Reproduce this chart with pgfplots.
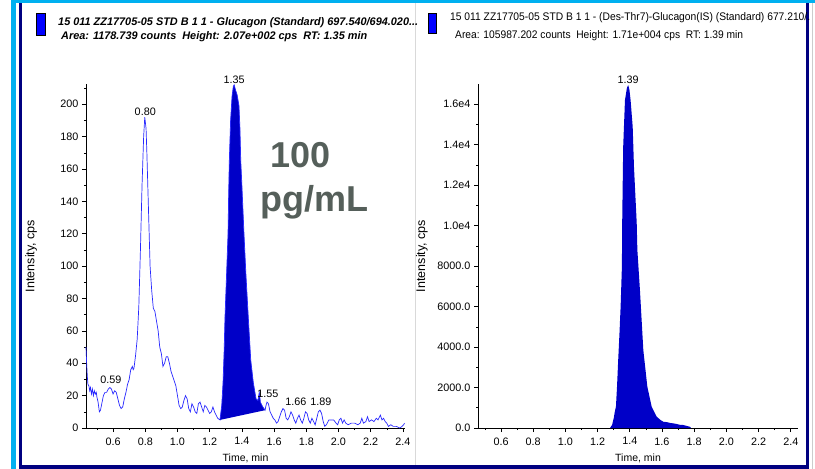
\documentclass[border=0pt]{standalone}
\usepackage{pgfplots}
\pgfplotsset{compat=1.18}
\usepackage{fontspec}
\setmainfont{Liberation Sans}
\usepackage{graphicx}
\definecolor{framecyan}{RGB}{0,176,240}
\definecolor{framenavy}{RGB}{0,0,128}
\definecolor{peakfill}{RGB}{0,0,200}
\definecolor{traceblue}{RGB}{40,40,255}
\definecolor{bigtext}{RGB}{85,95,90}
\newcommand{\fitw}[2]{\resizebox{#1}{\height}{#2}}
\pgfplotsset{
  chrom/.style={
    scale only axis,
    axis lines=left,
    axis line style={-, line width=0.8bp, black},
    tick align=outside,
    major tick length=4bp, minor tick length=2bp,
    every tick/.style={black, line width=0.6bp},
    tick label style={font=\fontsize{10.8bp}{12bp}\selectfont},
    /pgf/number format/assume math mode=true,
    xtick={0.6,0.8,1.0,1.2,1.4,1.6,1.8,2.0,2.2,2.4},
    minor xtick={0.5,0.7,0.9,1.1,1.3,1.5,1.7,1.9,2.1,2.3},
    xticklabel style={yshift=-2bp, /pgf/number format/.cd, fixed, fixed zerofill, precision=1},
    xlabel={Time, min},
    ylabel={Intensity, cps},
    scaled y ticks=false,
    clip=false,
  }
}
\begin{document}
\begin{tikzpicture}
\useasboundingbox (0,0) rectangle (815bp,-469bp);
\fill[white] (0,0) rectangle (815bp,-469bp);
% frame
\fill[framecyan] (11bp,0) rectangle (815bp,-3bp);
\fill[framecyan] (11bp,0) rectangle (16bp,-469bp);
\fill[framenavy] (18.5bp,-3bp) rectangle (22bp,-469bp);
\fill[framenavy] (18.5bp,-465bp) rectangle (809bp,-469bp);
\fill[framenavy] (805.5bp,-3bp) rectangle (809bp,-469bp);
\draw[gray!40, line width=0.8bp] (812.5bp,-3bp) -- (812.5bp,-469bp);
\draw[gray!30, line width=0.8bp] (415bp,-3bp) -- (415bp,-465bp);
% titles
\filldraw[fill=blue, draw=black, line width=0.8bp] (36bp,-13bp) rectangle (45bp,-35bp);
\filldraw[fill=blue, draw=black, line width=0.8bp] (428bp,-13bp) rectangle (436bp,-33bp);
\node[anchor=base west, inner sep=0] at (58bp,-25.5bp) {\fontsize{11bp}{13bp}\selectfont\bfseries\itshape\fitw{360bp}{15 011 ZZ17705-05 STD B 1 1 - Glucagon (Standard) 697.540/694.020...}};
\node[anchor=base west, inner sep=0] at (61bp,-39.5bp) {\fontsize{11bp}{13bp}\selectfont\bfseries\itshape\fitw{306bp}{Area: 1178.739 counts\ \ Height: 2.07e+002 cps\ \ RT: 1.35 min}};
\node[anchor=base west, inner sep=0] at (450bp,-21bp) {\fontsize{11bp}{13bp}\selectfont\fitw{360bp}{15 011 ZZ17705-05 STD B 1 1 - (Des-Thr7)-Glucagon(IS) (Standard) 677.210/.}};
\node[anchor=base west, inner sep=0] at (455bp,-39bp) {\fontsize{11bp}{13bp}\selectfont\fitw{288bp}{Area: 105987.202 counts\ \ Height: 1.71e+004 cps\ \ RT: 1.39 min}};
% left axis
\begin{axis}[chrom,
  at={(86bp,-428bp)}, anchor=south west, width=319bp, height=344bp,
  xmin=0.432, xmax=2.413, ymin=0, ymax=212.5,
  ytick={0,20,40,60,80,100,120,140,160,180,200},
  minor ytick={10,30,50,70,90,110,130,150,170,190,210},
  yticklabel style={/pgf/number format/.cd, fixed, precision=0},
  every axis y label/.style={at={(axis description cs:-0.172,0.5)}, rotate=90, anchor=center, font=\fontsize{12.5bp}{14bp}\selectfont},
  every axis x label/.style={at={(axis description cs:0.5,-0.087)}, anchor=center, font=\fontsize{10.5bp}{12bp}\selectfont},
]
\addplot[fill=peakfill, draw=none] coordinates {
(1.264,5) (1.275,14) (1.283,28) (1.29,48) (1.295,68) (1.305,95) (1.314,120) (1.318,145)
(1.322,165) (1.33,190) (1.339,205) (1.347,211) (1.352,212) (1.36,209) (1.37,206) (1.382,199)
(1.388,185) (1.393,165) (1.40,150) (1.413,120) (1.425,95) (1.44,68) (1.455,42) (1.471,28)
(1.488,18) (1.50,17) (1.508,22) (1.515,16) (1.53,13) (1.544,11)
} -- cycle;
\addplot[traceblue, line width=0.7bp] coordinates {
(0.432,50) (0.436,40) (0.44,32) (0.444,27) (0.45,26) (0.455,23) (0.46,25) (0.466,21)
(0.472,24) (0.478,20) (0.484,23) (0.49,21) (0.496,22) (0.50,19) (0.507,16) (0.515,10)
(0.522,11) (0.53,15) (0.54,20) (0.55,22) (0.56,22) (0.57,24) (0.58,25) (0.59,24)
(0.60,21) (0.61,23) (0.62,22) (0.63,18) (0.64,14) (0.65,12) (0.66,13) (0.67,18)
(0.68,22) (0.69,27) (0.70,30) (0.71,36) (0.72,38) (0.725,36) (0.73,37) (0.74,45)
(0.75,55) (0.76,75) (0.77,110) (0.78,150) (0.79,180) (0.797,192) (0.805,185) (0.81,170)
(0.82,135) (0.83,100) (0.84,85) (0.85,74) (0.86,72) (0.87,66) (0.875,63) (0.88,60)
(0.89,50) (0.90,46) (0.91,38) (0.92,40) (0.93,44) (0.94,44) (0.95,40) (0.96,35)
(0.97,32) (0.98,29) (0.99,26) (1.00,20) (1.01,14) (1.02,12) (1.03,13) (1.04,17)
(1.05,20) (1.06,18) (1.07,12) (1.08,10) (1.09,15) (1.10,13) (1.11,10) (1.12,9)
(1.13,15) (1.14,16) (1.15,13) (1.16,10) (1.17,14) (1.18,13) (1.19,11) (1.20,9)
(1.21,10) (1.22,13) (1.23,10) (1.24,8) (1.25,6) (1.264,5)
(1.275,14) (1.283,28) (1.29,48) (1.295,68) (1.305,95) (1.314,120) (1.318,145)
(1.322,165) (1.33,190) (1.339,205) (1.347,211) (1.352,212) (1.36,209) (1.37,206) (1.382,199)
(1.388,185) (1.393,165) (1.40,150) (1.413,120) (1.425,95) (1.44,68) (1.455,42) (1.471,28)
(1.488,18) (1.50,17) (1.508,22) (1.515,16) (1.53,13) (1.544,11)
(1.55,14) (1.556,16) (1.565,15) (1.575,10) (1.585,8) (1.595,6) (1.605,5) (1.615,3)
(1.625,4) (1.635,7) (1.645,10) (1.655,12) (1.665,11) (1.675,6) (1.685,5) (1.695,7)
(1.705,10) (1.715,8) (1.725,5) (1.735,3) (1.745,6) (1.755,8) (1.765,5) (1.775,3)
(1.785,6) (1.795,10) (1.805,9) (1.815,5) (1.825,3) (1.835,6) (1.845,4) (1.855,2)
(1.865,6) (1.875,10) (1.885,11) (1.895,9) (1.905,4) (1.915,1) (1.925,2) (1.94,5)
(1.955,5) (1.97,5) (1.985,3) (1.995,2) (2.005,5) (2.015,6) (2.025,3) (2.035,5)
(2.045,3) (2.06,2) (2.08,3) (2.10,3) (2.12,2) (2.135,3) (2.145,6) (2.155,3)
(2.17,4) (2.18,7) (2.19,4) (2.205,5) (2.22,4) (2.235,6) (2.245,5) (2.26,8)
(2.27,5) (2.28,6) (2.29,4) (2.30,3) (2.31,1) (2.325,2) (2.34,1) (2.36,1)
(2.38,0) (2.395,1) (2.405,2) (2.41,3)
};
\node[font=\fontsize{10.8bp}{12bp}\selectfont, anchor=south, inner sep=1.5bp] at (axis cs:0.80,192) {0.80};
\node[font=\fontsize{10.8bp}{12bp}\selectfont, anchor=south, inner sep=1.5bp] at (axis cs:1.352,212) {1.35};
\node[font=\fontsize{10.8bp}{12bp}\selectfont, anchor=center, inner sep=0] at (axis cs:0.587,30) {0.59};
\node[font=\fontsize{10.8bp}{12bp}\selectfont, anchor=center, inner sep=0] at (axis cs:1.562,21) {1.55};
\node[font=\fontsize{10.8bp}{12bp}\selectfont, anchor=center, inner sep=0] at (axis cs:1.735,16) {1.66};
\node[font=\fontsize{10.8bp}{12bp}\selectfont, anchor=center, inner sep=0] at (axis cs:1.89,16) {1.89};
\end{axis}
% big annotation
\node[anchor=base west, inner sep=0, text=bigtext, font=\fontsize{36bp}{40bp}\selectfont\bfseries] at (270bp,-167bp) {100};
\node[anchor=base west, inner sep=0, text=bigtext, font=\fontsize{36bp}{40bp}\selectfont\bfseries] at (260bp,-211bp) {pg/mL};
% right axis
\begin{axis}[chrom,
  at={(478bp,-428bp)}, anchor=south west, width=320bp, height=344bp,
  xmin=0.457, xmax=2.445, ymin=0, ymax=17000,
  ytick={0,2000,4000,6000,8000,10000,12000,14000,16000},
  yticklabels={0.0,2000.0,4000.0,6000.0,8000.0,1.0e4,1.2e4,1.4e4,1.6e4},
  minor ytick={1000,3000,5000,7000,9000,11000,13000,15000},
  every axis y label/.style={at={(axis description cs:-0.175,0.5)}, rotate=90, anchor=center, font=\fontsize{12.5bp}{14bp}\selectfont},
  every axis x label/.style={at={(axis description cs:0.5,-0.087)}, anchor=center, font=\fontsize{10.5bp}{12bp}\selectfont},
]
\addplot[fill=peakfill, draw=none] coordinates {
(1.277,0) (1.29,150) (1.30,480) (1.308,850) (1.314,1050) (1.321,2100) (1.328,3360)
(1.336,4700) (1.343,5990) (1.351,7970) (1.353,10270) (1.359,13900) (1.370,16200)
(1.382,16800) (1.390,16950) (1.398,16700) (1.405,16200) (1.418,14880) (1.426,12900)
(1.443,10130) (1.447,8800) (1.463,6820) (1.484,3850) (1.509,2040) (1.536,1050)
(1.567,560) (1.59,400) (1.608,310) (1.63,290) (1.65,250) (1.67,230) (1.69,200)
(1.71,160) (1.73,150) (1.75,110) (1.774,60) (1.78,0)
} \closedcycle;
\node[font=\fontsize{10.8bp}{12bp}\selectfont, anchor=south, inner sep=1.5bp] at (axis cs:1.39,16950) {1.39};
\end{axis}
\end{tikzpicture}
\end{document}
